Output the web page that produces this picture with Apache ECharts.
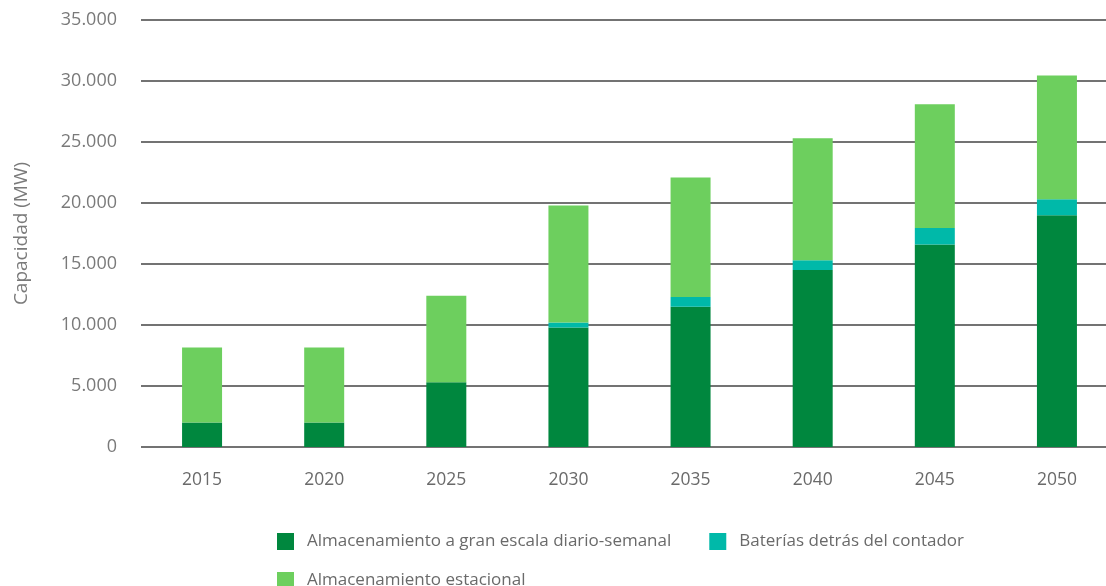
<!DOCTYPE html>
<html>
<head>
<meta charset="utf-8">
<script src="https://cdn.jsdelivr.net/npm/echarts@6/dist/echarts.min.js"></script>
<style>
  html, body { margin: 0; padding: 0; background: #fff; overflow: hidden; }
  /* el gráfico original está recortado por la derecha */
  #chart { width: 1118px; height: 586px; }
</style>
</head>
<body>
<div id="chart"></div>
<script>
  // años
  var years = ['2015', '2020', '2025', '2030', '2035', '2040', '2045', '2050'];
  // MW por tipo
  var granEscala = [2000, 2000, 5300, 9800, 11500, 14500, 16600, 19000];
  var baterias = [0, 0, 0, 400, 800, 800, 1350, 1300];
  var estacional = [6150, 6150, 7100, 9600, 9800, 10000, 10150, 10150];
  var seriesNames = ['Almacenamiento a gran escala diario-semanal', 'Baterías detrás del contador', 'Almacenamiento estacional'];

  var font = '"Open Sans", Lato, sans-serif';

  function fmt(v) {
    return String(v).replace(/\B(?=(\d{3})+(?!\d))/g, '.');
  }

  var chart = echarts.init(document.getElementById('chart'));
  chart.setOption({
    animation: false,
    grid: { left: 141, right: 0, top: 20, bottom: 139 },
    legend: [
      {
        data: [seriesNames[0], seriesNames[1]],
        left: 272, top: 528,
        itemWidth: 17, itemHeight: 17, itemGap: 38,
        icon: 'rect',
        textStyle: { fontFamily: font, fontSize: 17, color: '#6a6a6a', padding: [0, 0, 0, 8] }
      },
      {
        data: [seriesNames[2]],
        left: 272, top: 567,
        itemWidth: 17, itemHeight: 17,
        icon: 'rect',
        textStyle: { fontFamily: font, fontSize: 17, color: '#6a6a6a', padding: [0, 0, 0, 8] }
      }
    ],
    xAxis: {
      type: 'category',
      data: years,
      axisLine: { show: false },
      axisTick: { show: false },
      axisLabel: { fontFamily: font, fontSize: 17.5, color: '#6a6a6a', margin: 24 }
    },
    yAxis: {
      type: 'value',
      min: 0, max: 35000, interval: 5000,
      name: 'Capacidad (MW)',
      nameLocation: 'middle',
      nameGap: 110,
      nameTextStyle: { fontFamily: font, fontSize: 19, color: '#7a7a7a' },
      axisLabel: { fontFamily: font, fontSize: 18, color: '#7a7a7a', margin: 24, formatter: fmt },
      splitLine: { lineStyle: { color: '#444', width: 1.5 } }
    },
    series: [
      { name: seriesNames[0], type: 'bar', stack: 'a', barWidth: 40, data: granEscala, itemStyle: { color: '#00873e' } },
      { name: seriesNames[1], type: 'bar', stack: 'a', barWidth: 40, data: baterias, itemStyle: { color: '#00b9a9' } },
      { name: seriesNames[2], type: 'bar', stack: 'a', barWidth: 40, data: estacional, itemStyle: { color: '#6dcf5e' } }
    ]
  });
</script>
</body>
</html>
